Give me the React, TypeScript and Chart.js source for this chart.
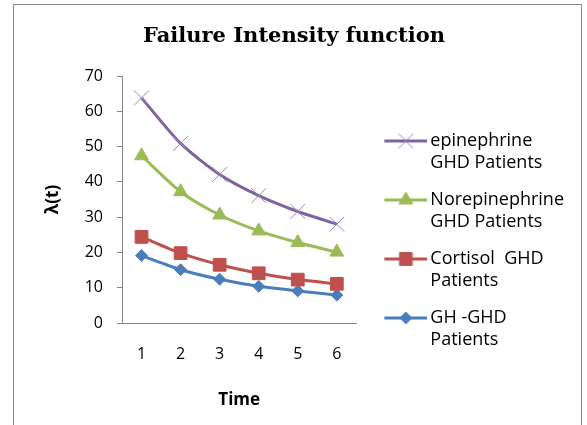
import React, { useEffect, useRef } from 'react';
import { Chart, registerables } from 'chart.js';
import { drawPoint } from 'chart.js/helpers';

Chart.register(...registerables);

const categories = ['1', '2', '3', '4', '5', '6'];
const epinephrine = [63.8, 50.9, 42.1, 36.1, 31.6, 28.0];
const norepinephrine = [47.4, 37.2, 30.6, 26.1, 22.8, 20.1];
const cortisol = [24.4, 19.8, 16.5, 14.1, 12.3, 11.1];
const ghGhd = [19.1, 15.1, 12.4, 10.4, 9.1, 7.9];

const seriesNames = ['epinephrine GHD Patients', 'Norepinephrine GHD Patients', 'Cortisol  GHD Patients', 'GH -GHD Patients'];
const legendLines = [
  ['epinephrine', 'GHD Patients'],
  ['Norepinephrine', 'GHD Patients'],
  ['Cortisol  GHD', 'Patients'],
  ['GH -GHD', 'Patients'],
];
const seriesColors = ['#7F62A1', '#9BBB59', '#C0504D', '#4A7EBB'];
const markerColors = ['#9A86C0', '#9BBB59', '#C0504D', '#4A7EBB'];
const markerStyles = ['crossRot', 'triangle', 'rect', 'rectRot'];
const markerRadii = [10.5, 8, 9, 6];

const yMin = 0;
const yMax = 70;
const yStep = 10;

function makeLegendIcon(i: number): HTMLCanvasElement {
  const c = document.createElement('canvas');
  c.width = 62;
  c.height = 24;
  const ctx = c.getContext('2d')!;
  ctx.strokeStyle = seriesColors[i];
  ctx.lineWidth = 3;
  ctx.beginPath();
  ctx.moveTo(19, 12);
  ctx.lineTo(62, 12);
  ctx.stroke();
  ctx.fillStyle = markerColors[i];
  ctx.strokeStyle = markerColors[i];
  ctx.lineWidth = 1;
  drawPoint(ctx, { pointStyle: markerStyles[i] as any, radius: markerRadii[i], rotation: 0, borderWidth: 1 } as any, 40.5, 12);
  return c;
}

export default function App() {
  const ref = useRef<HTMLCanvasElement | null>(null);

  useEffect(() => {
    if (!ref.current) return;
    const series = [epinephrine, norepinephrine, cortisol, ghGhd];
    const icons = series.map((_, i) => makeLegendIcon(i));
    const tickFont = { family: 'Open Sans', size: 16 };
    const chart = new Chart(ref.current, {
      type: 'line',
      data: {
        labels: categories,
        datasets: series.map((d, i) => ({
          label: seriesNames[i],
          data: d,
          borderColor: seriesColors[i],
          backgroundColor: markerColors[i],
          borderWidth: 3,
          tension: 0.25,
          pointStyle: markerStyles[i] as any,
          pointRadius: markerRadii[i],
          pointBackgroundColor: markerColors[i],
          pointBorderColor: markerColors[i],
          pointBorderWidth: 1,
          fill: false,
        })),
      },
      options: {
        responsive: false,
        animation: false,
        layout: { padding: { left: 0, right: 7, top: 0, bottom: 0 } },
        plugins: {
          tooltip: { enabled: false },
          title: {
            display: true,
            text: 'Failure Intensity function',
            color: '#000',
            font: { family: 'DejaVu Serif', size: 21, weight: 'bold', lineHeight: 1.2 },
            padding: { top: 19, bottom: 26.8 },
          },
          legend: {
            display: true,
            position: 'right',
            align: 'center',
            maxWidth: 240,
            labels: {
              usePointStyle: true,
              pointStyleWidth: 50,
              padding: 15,
              color: '#000',
              font: { family: 'Open Sans', size: 18, lineHeight: 22 / 18 },
              generateLabels: () =>
                legendLines.map((t, i) => ({
                  text: t as any,
                  fillStyle: markerColors[i],
                  strokeStyle: seriesColors[i],
                  lineWidth: 0,
                  pointStyle: icons[i] as any,
                  hidden: false,
                  datasetIndex: i,
                  fontColor: '#000',
                })),
            },
          },
        },
        scales: {
          x: {
            type: 'category',
            offset: true,
            grid: { display: false, drawTicks: false },
            border: { display: true, color: '#868686', width: 1 },
            ticks: { color: '#000', font: tickFont, padding: 21.4, maxRotation: 0 },
            title: {
              display: true,
              text: 'Time',
              color: '#000',
              font: { family: 'Open Sans', size: 17, weight: 'bold', lineHeight: 1.2 },
              padding: { top: 0, bottom: 69.8 },
            },
            afterFit: (scale: any) => {
              scale.height = 157;
            },
          },
          y: {
            type: 'linear',
            min: yMin,
            max: yMax,
            grid: { drawOnChartArea: false, drawTicks: true, tickLength: 5, color: '#868686' },
            border: { display: true, color: '#868686', width: 1 },
            ticks: { stepSize: yStep, color: '#000', font: tickFont, padding: 14 },
            title: {
              display: true,
              text: 'λ(t)',
              color: '#000',
              font: { family: 'Open Sans', size: 17, weight: 'bold', lineHeight: 1.2 },
              padding: { top: 28.8, bottom: 0 },
            },
            afterFit: (scale: any) => {
              scale.width = 108;
            },
          },
        },
      },
    });
    return () => chart.destroy();
  }, []);

  return (
    <div style={{ position: 'absolute', left: 0, top: 0, width: 587, height: 425, overflow: 'hidden', background: '#fff' }}>
      <div style={{ position: 'absolute', left: 13, top: 4, width: 567, height: 480, border: '1px solid #898989', background: '#fff' }}>
        <canvas ref={ref} width={567} height={475} style={{ display: 'block', width: 567, height: 475 }} />
      </div>
    </div>
  );
}
